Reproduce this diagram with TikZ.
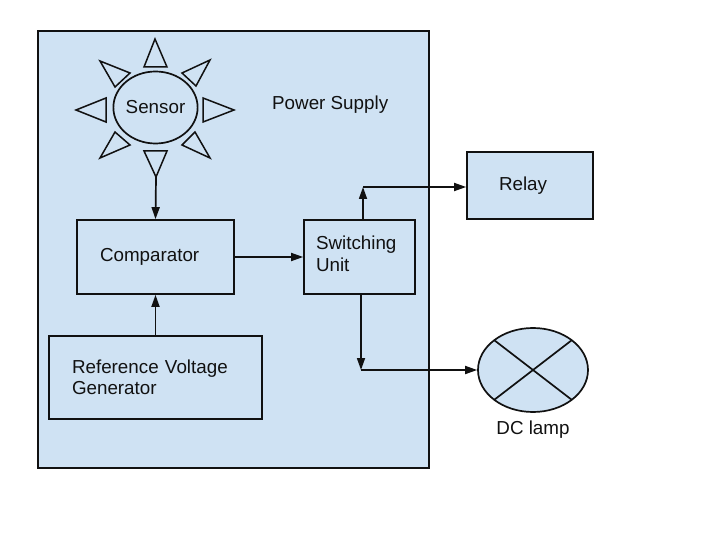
\documentclass[tikz,border=0pt]{standalone}
\usepackage{fontspec}
\setmainfont{Liberation Sans}
\usetikzlibrary{arrows.meta,shapes.geometric,calc}
\definecolor{lblue}{HTML}{CFE2F3}
\definecolor{ink}{HTML}{111111}
\begin{document}
\begin{tikzpicture}[x=1pt,y=-1pt,
  every node/.style={font=\fontsize{18.8}{21.5}\selectfont, text=ink},
  blk/.style={draw=ink, line width=1.7pt, fill=lblue, rectangle, inner ysep=0pt, align=left},
  ray/.style={draw=ink, line width=1.5pt, fill=lblue, line join=miter},
  conn/.style={draw=ink, line width=1.7pt},
  arr/.style={conn, -{Triangle[length=12pt,width=8pt]}}]
\useasboundingbox (0,0) rectangle (720,540);
\fill[white] (0,0) rectangle (720,540);
% Power supply box
\node[draw=ink, line width=1.7pt, fill=lblue, rectangle, inner sep=0pt, minimum width=391, minimum height=437] (ps) at (233.5,249.5) {};
\node[anchor=base west, inner sep=0pt] (pslabel) at (272,110) {Power Supply};
% Sensor rays
\draw[ray] (155,39) -- (167,67) -- (144,67) -- cycle;
\draw[ray] (144,151) -- (167,151) -- (156,177) -- cycle;
\draw[ray] (76,110) -- (106,98) -- (106,122) -- cycle;
\draw[ray] (234,110) -- (203,98) -- (203,122) -- cycle;
\draw[ray] (100,61) -- (130,73) -- (115,87) -- cycle;
\draw[ray] (210,60) -- (182,73) -- (196,86) -- cycle;
\draw[ray] (115,132) -- (130,145) -- (100,158) -- cycle;
\draw[ray] (195,132) -- (182,145) -- (210,158) -- cycle;
\coordinate (sensout) at (156,177);
% Sensor
\node[ellipse, draw=ink, line width=1.7pt, fill=lblue, minimum width=81, minimum height=72, inner sep=0pt] (sensor) at (155.5,107.5) {Sensor};
% Comparator
\node[blk, minimum height=74, inner xsep=23pt, text width=111pt] (comp) at (155.5,257) {\raisebox{-1pt}{Comparator}};
% Reference voltage generator
\node[blk, minimum height=83, inner xsep=23pt, text width=167pt] (ref) at (155.5,377.5) {\raisebox{1pt}{\parbox[b]{167pt}{Reference Voltage\\Generator}}};
% Switching unit
\node[blk, minimum height=74, inner xsep=12pt, text width=87pt] (sw) at (359.5,257) {\raisebox{7pt}{\parbox[b]{87pt}{Switching\\Unit}}};
% Relay
\node[blk, minimum height=67, inner xsep=32pt, text width=62pt] (relay) at (530,185.5) {Relay};
% DC lamp
\node[ellipse, draw=ink, line width=1.7pt, fill=lblue, minimum width=110, minimum height=84, inner sep=0pt] (lamp) at (533,370) {};
\draw[conn] (lamp.center) ++(-39,-30) -- ++(78,60);
\draw[conn] (lamp.center) ++(39,-30) -- ++(-78,60);
\node[anchor=base] (lamplabel) at (533,434) {DC lamp};
% Connectors
\coordinate (up) at (363,187);
\coordinate (dn) at (361,370);
\draw[arr] (sensout) -- (comp.north);
\draw[arr] (ref.north) -- (comp.south);
\draw[arr] (comp.east) -- (sw.west);
\draw[arr] (sw.north -| up) -- (up);
\draw[arr] (up) -- (up -| relay.west);
\draw[arr] (sw.south -| dn) -- (dn);
\draw[arr] (dn) -- (lamp.west);
\end{tikzpicture}
\end{document}
